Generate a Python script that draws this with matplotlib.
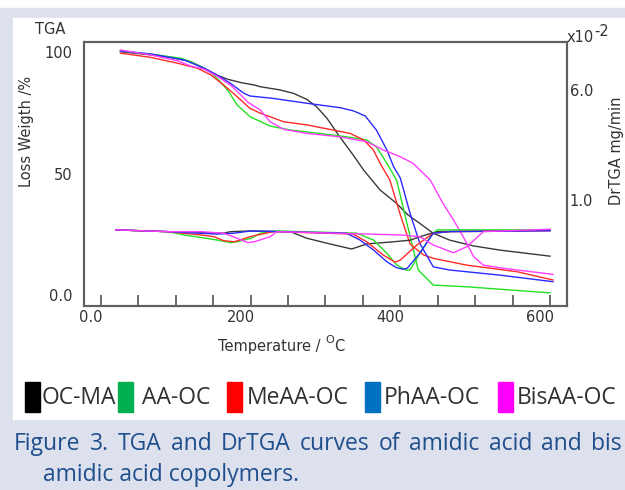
import numpy as np
import matplotlib
matplotlib.use("Agg")
import matplotlib.pyplot as plt
from matplotlib.patches import Rectangle
from matplotlib.transforms import ScaledTranslation

# ---- data (T in degC) ----
names = ["OC-MA", "AA-OC", "MeAA-OC", "PhAA-OC", "BisAA-OC"]
line_colors = ["#3a3a3a", "#22e022", "#ff2a2a", "#2a2aff", "#ff3cff"]
legend_colors = ["#000000", "#00b050", "#ff0000", "#0070c0", "#ff00ff"]

# TGA, weight %
tga_T_black = [26, 66, 93, 120, 138, 155, 169, 187, 205, 213, 239, 257, 275, 288, 302, 319, 337, 351, 373, 395, 410, 426, 444, 466, 498, 533, 600]
tga_W_black = [100.1, 98.8, 97.8, 96.0, 93.3, 90.5, 88.8, 87.4, 86.4, 85.7, 84.4, 83.0, 80.5, 77.5, 72.7, 65.1, 57.6, 51.4, 43.2, 37.7, 33.0, 29.5, 25.4, 22.6, 20.2, 18.5, 16.0]
tga_T_green = [26, 75, 107, 120, 138, 151, 169, 182, 199, 226, 253, 297, 328, 355, 368, 382, 395, 410, 424, 444, 489, 600]
tga_W_green = [100.4, 98.8, 97.4, 96.0, 93.3, 90.5, 84.4, 78.2, 73.4, 69.5, 67.9, 66.3, 65.1, 63.8, 61.0, 54.2, 47.3, 28.0, 10.3, 4.1, 3.4, 0.9]
tga_T_red = [26, 66, 102, 129, 147, 164, 182, 199, 213, 244, 275, 310, 333, 351, 364, 373, 386, 400, 413, 431, 444, 489, 556, 604]
tga_W_red = [99.5, 97.8, 95.4, 93.3, 90.5, 86.4, 81.6, 76.8, 74.8, 71.3, 70.0, 67.9, 66.5, 63.8, 59.7, 54.2, 47.3, 33.0, 21.0, 16.5, 15.1, 12.3, 9.6, 6.2]
tga_T_blue = [26, 66, 111, 138, 155, 173, 191, 199, 230, 275, 319, 337, 353, 368, 382, 391, 400, 413, 426, 444, 466, 533, 604]
tga_W_blue = [100.4, 99.2, 96.7, 93.3, 90.5, 87.1, 83.0, 81.9, 80.9, 78.9, 77.1, 75.8, 73.7, 67.9, 59.7, 52.8, 48.1, 33.6, 21.3, 11.6, 10.3, 8.2, 5.5]
tga_T_pink = [26, 66, 102, 120, 138, 155, 173, 187, 196, 213, 226, 244, 275, 319, 355, 377, 400, 417, 440, 457, 471, 484, 498, 511, 533, 604]
tga_W_pink = [100.8, 98.8, 96.4, 94.2, 92.9, 90.1, 86.4, 82.3, 79.4, 76.1, 71.3, 68.2, 66.5, 65.1, 63.1, 59.7, 56.9, 54.2, 47.3, 37.7, 30.9, 24.0, 15.8, 12.3, 11.2, 8.5]

# DrTGA, x10^-2 mg/min
dtg_T_black = [20, 89, 164, 173, 200, 253, 275, 306, 335, 355, 391, 413, 426, 449, 600]
dtg_D_black = [-0.36, -0.44, -0.51, -0.44, -0.41, -0.44, -0.74, -1.0, -1.23, -1.0, -0.9, -0.83, -0.67, -0.44, -0.37]
dtg_T_green = [20, 89, 111, 155, 173, 182, 200, 213, 235, 342, 364, 382, 395, 408, 413, 426, 440, 449, 600]
dtg_D_green = [-0.36, -0.44, -0.59, -0.82, -0.94, -0.90, -0.75, -0.51, -0.41, -0.51, -0.82, -1.42, -1.95, -2.2, -2.18, -1.42, -0.67, -0.36, -0.36]
dtg_T_red = [20, 89, 133, 151, 164, 178, 186, 199, 230, 337, 355, 377, 393, 400, 422, 444, 466, 600]
dtg_D_red = [-0.36, -0.44, -0.59, -0.67, -0.85, -0.90, -0.82, -0.67, -0.44, -0.55, -0.90, -1.50, -1.83, -1.73, -1.05, -0.51, -0.44, -0.40]
dtg_T_blue = [20, 89, 155, 178, 200, 328, 346, 364, 382, 395, 404, 409, 426, 444, 466, 600]
dtg_D_blue = [-0.36, -0.44, -0.55, -0.51, -0.41, -0.51, -0.82, -1.27, -1.81, -2.08, -2.15, -2.11, -1.42, -0.51, -0.44, -0.40]
dtg_T_pink = [20, 89, 133, 164, 182, 196, 205, 226, 235, 400, 426, 444, 471, 489, 511, 600]
dtg_D_pink = [-0.36, -0.44, -0.44, -0.51, -0.74, -0.94, -0.90, -0.67, -0.44, -0.59, -0.67, -1.05, -1.40, -1.12, -0.44, -0.33]

tga = [(tga_T_black, tga_W_black), (tga_T_green, tga_W_green), (tga_T_red, tga_W_red),
       (tga_T_blue, tga_W_blue), (tga_T_pink, tga_W_pink)]
dtg = [(dtg_T_black, dtg_D_black), (dtg_T_green, dtg_D_green), (dtg_T_red, dtg_D_red),
       (dtg_T_blue, dtg_D_blue), (dtg_T_pink, dtg_D_pink)]

caption1 = "Figure 3. TGA and DrTGA curves of amidic acid and bis"
caption2 = "amidic acid copolymers."

W, H = 625, 490
fig = plt.figure(figsize=(W / 100, H / 100), dpi=100)
fig.patch.set_facecolor("white")

def fx(x): return x / W
def fy(y): return 1 - y / H

# page background + white panel
fig.patches.append(Rectangle((0, 0), 1, fy(8), transform=fig.transFigure, color="#dde1ee", zorder=-10))
fig.patches.append(Rectangle((fx(13), fy(419)), 1, fy(18) - fy(419), transform=fig.transFigure, color="white", zorder=-9))

ax = fig.add_axes([fx(84), fy(306), fx(567) - fx(84), fy(42) - fy(306)])
ax2 = ax.twinx()
for a in (ax, ax2):
    a.set_facecolor("none")
    for s in a.spines.values():
        s.set_color("#606060"); s.set_linewidth(1.5)

for (t, w), c in zip(tga, line_colors):
    ax.plot(t, w, color=c, lw=1.0)
for (t, d), c in zip(dtg, line_colors):
    ax2.plot(t, d, color=c, lw=1.0)

ax.set_xlim(-22.7, 622.7)
ax.set_ylim(-4.5, 104.1)
ax2.set_ylim(-3.82, 8.18)

tc = "#333333"
fs = 10.5
ax.set_xticks([0, 200, 400, 600])
ax.set_xticklabels(["0.0", "200", "400", "600"], fontsize=fs, color=tc)
ax.set_xticks(np.arange(0, 601, 50), minor=True)
ax.tick_params(axis="x", which="both", direction="in", length=8, width=1.3, color="#606060", pad=3)
for lab in ax.get_xticklabels():
    lab.set_transform(lab.get_transform() + ScaledTranslation(-0.10, 0, fig.dpi_scale_trans))
ax.set_yticks([0, 50, 100])
ax.set_yticklabels(["0.0", "50", "100"], fontsize=fs, color=tc)
ax.tick_params(axis="y", length=0, pad=8)
ax2.set_yticks([1.0, 6.0])
ax2.set_yticklabels(["1.0", "6.0"], fontsize=fs, color=tc)
ax2.tick_params(axis="y", length=0, pad=2)

# axis texts
fig.text(fx(35), fy(29), "TGA", fontsize=fs, color=tc, va="center", ha="left")
fig.text(fx(27), fy(131), "Loss Weigth /%", fontsize=fs, color=tc, rotation=90, va="center", ha="center")
fig.text(fx(617), fy(151), "DrTGA mg/min", fontsize=fs, color=tc, rotation=90, va="center", ha="center")
fig.text(fx(567), fy(38), "x10", fontsize=fs, color=tc, va="center", ha="left")
fig.text(fx(594), fy(32), "-2", fontsize=fs, color=tc, va="center", ha="left")
fig.text(fx(218), fy(346), "Temperature / ", fontsize=fs, color=tc, va="center", ha="left")
fig.text(fx(325), fy(340), "O", fontsize=8, color=tc, va="center", ha="left")
fig.text(fx(334), fy(346), "C", fontsize=fs, color=tc, va="center", ha="left")

# legend strip
sq_x = [25, 118, 227, 365, 498]
txt_x = [42, 142, 247, 384, 517]
for n, c, sx, tx in zip(names, legend_colors, sq_x, txt_x):
    fig.patches.append(Rectangle((fx(sx), fy(412)), fx(15), fy(382) - fy(412),
                                 transform=fig.transFigure, color=c))
    fig.text(fx(tx), fy(398), n, fontsize=16.5, family="Open Sans", color="#303030", va="center", ha="left")

# caption: first line justified across the page width
cap = "#1f4e8c"
cfs = 16.5
words = caption1.split(" ")
tx = [fig.text(0, fy(444), w_, fontsize=cfs, family="Open Sans", color=cap, va="center", ha="left") for w_ in words]
fig.canvas.draw()
r = fig.canvas.get_renderer()
widths = [t.get_window_extent(r).width for t in tx]
x0, x1 = 14, 622
gap = (x1 - x0 - sum(widths)) / (len(words) - 1)
x = x0
for t, wd in zip(tx, widths):
    t.set_x(fx(x)); x += wd + gap
fig.text(fx(43), fy(475), caption2, fontsize=cfs, family="Open Sans", color=cap, va="center", ha="left")

fig.savefig("out.png", dpi=100)
